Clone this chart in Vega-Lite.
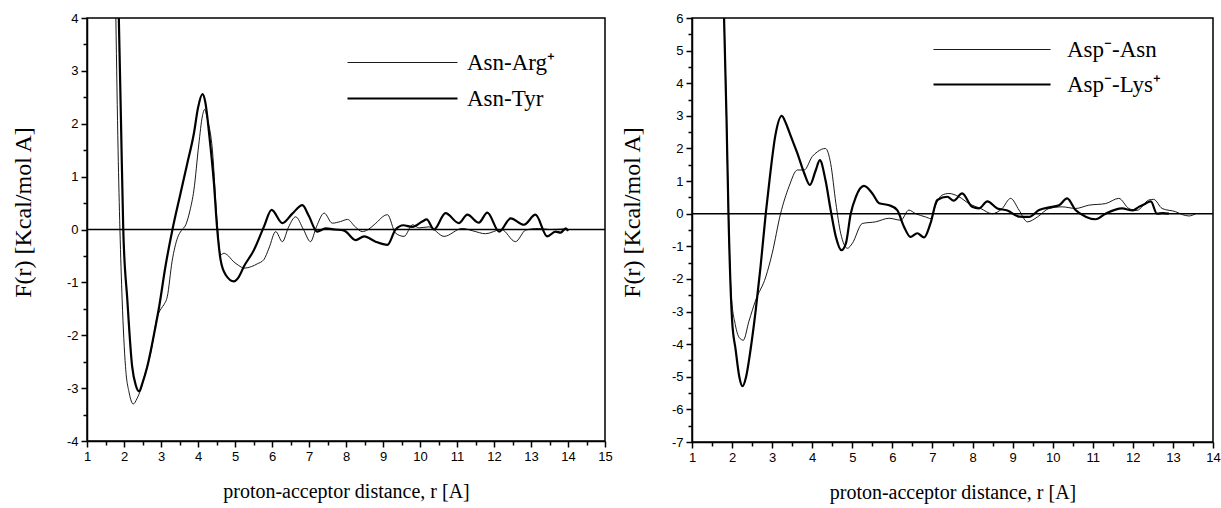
{
  "$schema": "https://vega.github.io/schema/vega-lite/v6.json",
  "background": "white",
  "padding": {"left": 10, "top": 11, "right": 5, "bottom": 5},
  "spacing": 6,
  "config": {
    "view": {"stroke": "black", "strokeWidth": 1.5},
    "axis": {"grid": false},
    "legend": {"labelFont": "Liberation Serif", "labelFontSize": 23, "labelColor": "black", "padding": 0}
  },
  "resolve": {"scale": {"strokeWidth": "independent"}, "legend": {"strokeWidth": "independent"}},
  "hconcat": [
    {
      "width": 518, "height": 423,
      "resolve": {"axis": {"x": "independent", "y": "independent"}},
      "layer": [
        {
          "data": {"values": [{}]},
          "mark": {"type": "rule", "color": "black", "strokeWidth": 1.5},
          "encoding": {"y": {"datum": 0, "type": "quantitative", "scale": {"domain": [-4, 4], "nice": false, "zero": false}, "axis": null}}
        },
        {
          "data": {"values": [{}]},
          "mark": {"type": "point", "opacity": 0},
          "encoding": {
            "x": {"datum": 1, "type": "quantitative", "scale": {"domain": [1, 15], "nice": false, "zero": false},
              "axis": {"orient": "bottom", "zindex": 1, "values": [1.5,2.5,3.5,4.5,5.5,6.5,7.5,8.5,9.5,10.5,11.5,12.5,13.5,14.5], "labels": false, "domain": false, "title": null, "tickSize": 4, "tickColor": "black", "tickWidth": 1.5}},
            "y": {"datum": 0, "type": "quantitative", "scale": {"domain": [-4, 4], "nice": false, "zero": false},
              "axis": {"orient": "left", "zindex": 1, "values": [-3.5,-2.5,-1.5,-0.5,0.5,1.5,2.5,3.5], "labels": false, "domain": false, "title": null, "tickSize": 4, "tickColor": "black", "tickWidth": 1.5}}
          }
        },
        {
          "data": {"values": [
            {"series": "Asn-Arg⁺", "r": 1.78, "F": 4.0}, {"series": "Asn-Arg⁺", "r": 1.84, "F": 1.5}, {"series": "Asn-Arg⁺", "r": 1.89, "F": 0}, {"series": "Asn-Arg⁺", "r": 1.95, "F": -1.33}, {"series": "Asn-Arg⁺", "r": 2.04, "F": -2.59}, {"series": "Asn-Arg⁺", "r": 2.14, "F": -3.09}, {"series": "Asn-Arg⁺", "r": 2.25, "F": -3.30}, {"series": "Asn-Arg⁺", "r": 2.35, "F": -3.2}, {"series": "Asn-Arg⁺", "r": 2.45, "F": -3.03}, {"series": "Asn-Arg⁺", "r": 2.58, "F": -2.7}, {"series": "Asn-Arg⁺", "r": 2.72, "F": -2.34}, {"series": "Asn-Arg⁺", "r": 2.90, "F": -1.65}, {"series": "Asn-Arg⁺", "r": 3.0, "F": -1.5}, {"series": "Asn-Arg⁺", "r": 3.08, "F": -1.42}, {"series": "Asn-Arg⁺", "r": 3.17, "F": -1.27}, {"series": "Asn-Arg⁺", "r": 3.30, "F": -0.6}, {"series": "Asn-Arg⁺", "r": 3.45, "F": -0.15}, {"series": "Asn-Arg⁺", "r": 3.55, "F": -0.02}, {"series": "Asn-Arg⁺", "r": 3.67, "F": 0.09}, {"series": "Asn-Arg⁺", "r": 3.78, "F": 0.35}, {"series": "Asn-Arg⁺", "r": 3.89, "F": 0.75}, {"series": "Asn-Arg⁺", "r": 4.02, "F": 1.6}, {"series": "Asn-Arg⁺", "r": 4.12, "F": 2.15}, {"series": "Asn-Arg⁺", "r": 4.18, "F": 2.27}, {"series": "Asn-Arg⁺", "r": 4.25, "F": 2.1}, {"series": "Asn-Arg⁺", "r": 4.39, "F": 1.5}, {"series": "Asn-Arg⁺", "r": 4.52, "F": 0.1}, {"series": "Asn-Arg⁺", "r": 4.61, "F": -0.48}, {"series": "Asn-Arg⁺", "r": 4.70, "F": -0.45}, {"series": "Asn-Arg⁺", "r": 4.79, "F": -0.48}, {"series": "Asn-Arg⁺", "r": 4.95, "F": -0.6}, {"series": "Asn-Arg⁺", "r": 5.1, "F": -0.68}, {"series": "Asn-Arg⁺", "r": 5.24, "F": -0.73}, {"series": "Asn-Arg⁺", "r": 5.45, "F": -0.70}, {"series": "Asn-Arg⁺", "r": 5.6, "F": -0.65}, {"series": "Asn-Arg⁺", "r": 5.78, "F": -0.57}, {"series": "Asn-Arg⁺", "r": 5.92, "F": -0.35}, {"series": "Asn-Arg⁺", "r": 6.1, "F": -0.04}, {"series": "Asn-Arg⁺", "r": 6.28, "F": -0.23}, {"series": "Asn-Arg⁺", "r": 6.45, "F": 0.05}, {"series": "Asn-Arg⁺", "r": 6.64, "F": 0.24}, {"series": "Asn-Arg⁺", "r": 6.85, "F": 0.0}, {"series": "Asn-Arg⁺", "r": 7.04, "F": -0.23}, {"series": "Asn-Arg⁺", "r": 7.2, "F": 0.05}, {"series": "Asn-Arg⁺", "r": 7.41, "F": 0.31}, {"series": "Asn-Arg⁺", "r": 7.63, "F": 0.12}, {"series": "Asn-Arg⁺", "r": 7.85, "F": 0.15}, {"series": "Asn-Arg⁺", "r": 8.04, "F": 0.19}, {"series": "Asn-Arg⁺", "r": 8.25, "F": 0.05}, {"series": "Asn-Arg⁺", "r": 8.44, "F": -0.04}, {"series": "Asn-Arg⁺", "r": 8.6, "F": 0.0}, {"series": "Asn-Arg⁺", "r": 8.76, "F": 0.09}, {"series": "Asn-Arg⁺", "r": 9.12, "F": 0.28}, {"series": "Asn-Arg⁺", "r": 9.34, "F": -0.07}, {"series": "Asn-Arg⁺", "r": 9.57, "F": -0.13}, {"series": "Asn-Arg⁺", "r": 9.8, "F": 0.09}, {"series": "Asn-Arg⁺", "r": 9.97, "F": 0.03}, {"series": "Asn-Arg⁺", "r": 10.24, "F": 0.05}, {"series": "Asn-Arg⁺", "r": 10.65, "F": -0.13}, {"series": "Asn-Arg⁺", "r": 11.14, "F": 0.02}, {"series": "Asn-Arg⁺", "r": 11.45, "F": -0.03}, {"series": "Asn-Arg⁺", "r": 11.77, "F": -0.08}, {"series": "Asn-Arg⁺", "r": 12.2, "F": 0}, {"series": "Asn-Arg⁺", "r": 12.58, "F": -0.23}, {"series": "Asn-Arg⁺", "r": 12.86, "F": -0.01}, {"series": "Asn-Arg⁺", "r": 13.2, "F": 0.02}, {"series": "Asn-Arg⁺", "r": 13.5, "F": 0.0}, {"series": "Asn-Arg⁺", "r": 13.9, "F": 0.01},
            {"series": "Asn-Tyr", "r": 1.86, "F": 4.0}, {"series": "Asn-Tyr", "r": 1.92, "F": 2.0}, {"series": "Asn-Tyr", "r": 1.98, "F": 0}, {"series": "Asn-Tyr", "r": 2.09, "F": -1.33}, {"series": "Asn-Tyr", "r": 2.22, "F": -2.59}, {"series": "Asn-Tyr", "r": 2.32, "F": -2.95}, {"series": "Asn-Tyr", "r": 2.41, "F": -3.06}, {"series": "Asn-Tyr", "r": 2.5, "F": -2.9}, {"series": "Asn-Tyr", "r": 2.63, "F": -2.59}, {"series": "Asn-Tyr", "r": 2.85, "F": -1.84}, {"series": "Asn-Tyr", "r": 2.95, "F": -1.46}, {"series": "Asn-Tyr", "r": 3.12, "F": -0.7}, {"series": "Asn-Tyr", "r": 3.31, "F": 0}, {"series": "Asn-Tyr", "r": 3.53, "F": 0.69}, {"series": "Asn-Tyr", "r": 3.71, "F": 1.25}, {"series": "Asn-Tyr", "r": 3.89, "F": 1.82}, {"series": "Asn-Tyr", "r": 4.0, "F": 2.3}, {"series": "Asn-Tyr", "r": 4.12, "F": 2.56}, {"series": "Asn-Tyr", "r": 4.2, "F": 2.4}, {"series": "Asn-Tyr", "r": 4.30, "F": 1.82}, {"series": "Asn-Tyr", "r": 4.43, "F": 0.88}, {"series": "Asn-Tyr", "r": 4.52, "F": 0}, {"series": "Asn-Tyr", "r": 4.61, "F": -0.57}, {"series": "Asn-Tyr", "r": 4.75, "F": -0.86}, {"series": "Asn-Tyr", "r": 4.97, "F": -0.98}, {"series": "Asn-Tyr", "r": 5.10, "F": -0.9}, {"series": "Asn-Tyr", "r": 5.24, "F": -0.70}, {"series": "Asn-Tyr", "r": 5.51, "F": -0.39}, {"series": "Asn-Tyr", "r": 5.78, "F": 0.05}, {"series": "Asn-Tyr", "r": 5.99, "F": 0.37}, {"series": "Asn-Tyr", "r": 6.28, "F": 0.12}, {"series": "Asn-Tyr", "r": 6.55, "F": 0.3}, {"series": "Asn-Tyr", "r": 6.82, "F": 0.46}, {"series": "Asn-Tyr", "r": 7.0, "F": 0.25}, {"series": "Asn-Tyr", "r": 7.22, "F": -0.04}, {"series": "Asn-Tyr", "r": 7.45, "F": 0.02}, {"series": "Asn-Tyr", "r": 7.7, "F": 0.0}, {"series": "Asn-Tyr", "r": 7.95, "F": -0.02}, {"series": "Asn-Tyr", "r": 8.26, "F": -0.2}, {"series": "Asn-Tyr", "r": 8.49, "F": -0.13}, {"series": "Asn-Tyr", "r": 8.80, "F": -0.23}, {"series": "Asn-Tyr", "r": 9.12, "F": -0.29}, {"series": "Asn-Tyr", "r": 9.34, "F": 0.0}, {"series": "Asn-Tyr", "r": 9.55, "F": 0.08}, {"series": "Asn-Tyr", "r": 9.79, "F": 0.05}, {"series": "Asn-Tyr", "r": 10.06, "F": 0.15}, {"series": "Asn-Tyr", "r": 10.18, "F": 0.19}, {"series": "Asn-Tyr", "r": 10.38, "F": 0}, {"series": "Asn-Tyr", "r": 10.69, "F": 0.31}, {"series": "Asn-Tyr", "r": 11.05, "F": 0.12}, {"series": "Asn-Tyr", "r": 11.28, "F": 0.28}, {"series": "Asn-Tyr", "r": 11.59, "F": 0.13}, {"series": "Asn-Tyr", "r": 11.82, "F": 0.32}, {"series": "Asn-Tyr", "r": 12.14, "F": -0.04}, {"series": "Asn-Tyr", "r": 12.45, "F": 0.21}, {"series": "Asn-Tyr", "r": 12.81, "F": 0.09}, {"series": "Asn-Tyr", "r": 13.12, "F": 0.28}, {"series": "Asn-Tyr", "r": 13.44, "F": -0.13}, {"series": "Asn-Tyr", "r": 13.66, "F": -0.04}, {"series": "Asn-Tyr", "r": 13.8, "F": -0.06}, {"series": "Asn-Tyr", "r": 13.94, "F": 0.02}, {"series": "Asn-Tyr", "r": 14.0, "F": -0.03}
          ]},
          "mark": {"type": "line", "interpolate": "monotone", "color": "black"},
          "encoding": {
            "x": {"field": "r", "type": "quantitative", "scale": {"domain": [1, 15], "nice": false, "zero": false},
              "axis": {"orient": "bottom", "zindex": 1, "domainColor": "black", "domainWidth": 1.5,
                "labelFont": "Liberation Sans", "labelFontSize": 13, "labelColor": "black", "labelFlush": false, "labelPadding": 3,
                "title": "proton-acceptor distance, r [A]", "titleFont": "Liberation Serif", "titleFontSize": 20, "titleFontWeight": "normal", "titleColor": "black", "titlePadding": 18,
                "values": [1,2,3,4,5,6,7,8,9,10,11,12,13,14,15], "format": "d", "tickSize": 6, "tickColor": "black", "tickWidth": 1.5}},
            "y": {"field": "F", "type": "quantitative", "scale": {"domain": [-4, 4], "nice": false, "zero": false},
              "axis": {"orient": "left", "zindex": 1, "domainColor": "black", "domainWidth": 1.5,
                "labelFont": "Liberation Sans", "labelFontSize": 13, "labelColor": "black", "labelFlush": false, "labelPadding": 3,
                "title": "F(r) [Kcal/mol A]", "titleFont": "Liberation Serif", "titleFontSize": 24, "titleFontWeight": "normal", "titleColor": "black", "titleX": -52, "titleY": 194,
                "values": [-4,-3,-2,-1,0,1,2,3,4], "labelExpr": "'' + datum.value", "tickSize": 6, "tickColor": "black", "tickWidth": 1.5}},
            "strokeWidth": {"field": "series", "type": "ordinal",
              "scale": {"domain": ["Asn-Arg⁺", "Asn-Tyr"], "range": [0.9, 2.2]},
              "legend": {"title": null, "orient": "none", "legendX": 259, "legendY": 33,
                "symbolType": "M-1,0H9", "symbolSize": 484, "symbolStrokeColor": "black", "symbolFillColor": "transparent",
                "labelOffset": 96, "rowPadding": 11}}
          }
        }
      ]
    },
    {
      "width": 521, "height": 424,
      "resolve": {"axis": {"x": "independent", "y": "independent"}},
      "layer": [
        {
          "data": {"values": [{}]},
          "mark": {"type": "rule", "color": "black", "strokeWidth": 1.5},
          "encoding": {"y": {"datum": 0, "type": "quantitative", "scale": {"domain": [-7, 6], "nice": false, "zero": false}, "axis": null}}
        },
        {
          "data": {"values": [{}]},
          "mark": {"type": "point", "opacity": 0},
          "encoding": {
            "x": {"datum": 1, "type": "quantitative", "scale": {"domain": [1, 14], "nice": false, "zero": false},
              "axis": {"orient": "bottom", "zindex": 1, "values": [1.5,2.5,3.5,4.5,5.5,6.5,7.5,8.5,9.5,10.5,11.5,12.5,13.5], "labels": false, "domain": false, "title": null, "tickSize": 4, "tickColor": "black", "tickWidth": 1.5}},
            "y": {"datum": 0, "type": "quantitative", "scale": {"domain": [-7, 6], "nice": false, "zero": false},
              "axis": {"orient": "left", "zindex": 1, "values": [-6.5,-5.5,-4.5,-3.5,-2.5,-1.5,-0.5,0.5,1.5,2.5,3.5,4.5,5.5], "labels": false, "domain": false, "title": null, "tickSize": 4, "tickColor": "black", "tickWidth": 1.5}}
          }
        },
        {
          "data": {"values": [
            {"series": "Asp⁻-Asn", "r": 1.80, "F": 6}, {"series": "Asp⁻-Asn", "r": 1.86, "F": 3}, {"series": "Asp⁻-Asn", "r": 1.91, "F": 0}, {"series": "Asp⁻-Asn", "r": 1.98, "F": -2.5}, {"series": "Asp⁻-Asn", "r": 2.08, "F": -3.4}, {"series": "Asp⁻-Asn", "r": 2.18, "F": -3.8}, {"series": "Asp⁻-Asn", "r": 2.28, "F": -3.88}, {"series": "Asp⁻-Asn", "r": 2.42, "F": -3.3}, {"series": "Asp⁻-Asn", "r": 2.59, "F": -2.65}, {"series": "Asp⁻-Asn", "r": 2.84, "F": -1.94}, {"series": "Asp⁻-Asn", "r": 3.0, "F": -1.22}, {"series": "Asp⁻-Asn", "r": 3.21, "F": 0}, {"series": "Asp⁻-Asn", "r": 3.42, "F": 0.83}, {"series": "Asp⁻-Asn", "r": 3.63, "F": 1.34}, {"series": "Asp⁻-Asn", "r": 3.80, "F": 1.34}, {"series": "Asp⁻-Asn", "r": 4.0, "F": 1.75}, {"series": "Asp⁻-Asn", "r": 4.13, "F": 1.9}, {"series": "Asp⁻-Asn", "r": 4.33, "F": 2.0}, {"series": "Asp⁻-Asn", "r": 4.46, "F": 1.54}, {"series": "Asp⁻-Asn", "r": 4.59, "F": 0.32}, {"series": "Asp⁻-Asn", "r": 4.71, "F": -0.6}, {"series": "Asp⁻-Asn", "r": 4.88, "F": -1.06}, {"series": "Asp⁻-Asn", "r": 5.0, "F": -0.91}, {"series": "Asp⁻-Asn", "r": 5.25, "F": -0.3}, {"series": "Asp⁻-Asn", "r": 5.58, "F": -0.25}, {"series": "Asp⁻-Asn", "r": 5.92, "F": -0.14}, {"series": "Asp⁻-Asn", "r": 6.21, "F": -0.2}, {"series": "Asp⁻-Asn", "r": 6.41, "F": 0.11}, {"series": "Asp⁻-Asn", "r": 6.58, "F": 0}, {"series": "Asp⁻-Asn", "r": 6.83, "F": -0.1}, {"series": "Asp⁻-Asn", "r": 6.96, "F": -0.15}, {"series": "Asp⁻-Asn", "r": 7.06, "F": 0.2}, {"series": "Asp⁻-Asn", "r": 7.24, "F": 0.57}, {"series": "Asp⁻-Asn", "r": 7.41, "F": 0.62}, {"series": "Asp⁻-Asn", "r": 7.66, "F": 0.52}, {"series": "Asp⁻-Asn", "r": 7.91, "F": 0.31}, {"series": "Asp⁻-Asn", "r": 8.2, "F": 0.16}, {"series": "Asp⁻-Asn", "r": 8.49, "F": 0}, {"series": "Asp⁻-Asn", "r": 8.74, "F": 0.16}, {"series": "Asp⁻-Asn", "r": 8.95, "F": 0.47}, {"series": "Asp⁻-Asn", "r": 9.16, "F": 0.11}, {"series": "Asp⁻-Asn", "r": 9.37, "F": -0.25}, {"series": "Asp⁻-Asn", "r": 9.62, "F": -0.1}, {"series": "Asp⁻-Asn", "r": 9.91, "F": 0.16}, {"series": "Asp⁻-Asn", "r": 10.24, "F": 0.21}, {"series": "Asp⁻-Asn", "r": 10.57, "F": 0.16}, {"series": "Asp⁻-Asn", "r": 10.9, "F": 0.26}, {"series": "Asp⁻-Asn", "r": 11.32, "F": 0.31}, {"series": "Asp⁻-Asn", "r": 11.65, "F": 0.47}, {"series": "Asp⁻-Asn", "r": 11.9, "F": 0.16}, {"series": "Asp⁻-Asn", "r": 12.1, "F": 0.1}, {"series": "Asp⁻-Asn", "r": 12.4, "F": 0.42}, {"series": "Asp⁻-Asn", "r": 12.52, "F": 0.44}, {"series": "Asp⁻-Asn", "r": 12.73, "F": 0.16}, {"series": "Asp⁻-Asn", "r": 13.07, "F": 0.06}, {"series": "Asp⁻-Asn", "r": 13.24, "F": -0.03}, {"series": "Asp⁻-Asn", "r": 13.40, "F": -0.07}, {"series": "Asp⁻-Asn", "r": 13.57, "F": 0},
            {"series": "Asp⁻-Lys⁺", "r": 1.80, "F": 6}, {"series": "Asp⁻-Lys⁺", "r": 1.86, "F": 3}, {"series": "Asp⁻-Lys⁺", "r": 1.91, "F": 0}, {"series": "Asp⁻-Lys⁺", "r": 2.0, "F": -3.26}, {"series": "Asp⁻-Lys⁺", "r": 2.09, "F": -4.18}, {"series": "Asp⁻-Lys⁺", "r": 2.18, "F": -5.0}, {"series": "Asp⁻-Lys⁺", "r": 2.26, "F": -5.29}, {"series": "Asp⁻-Lys⁺", "r": 2.35, "F": -5.0}, {"series": "Asp⁻-Lys⁺", "r": 2.46, "F": -4.18}, {"series": "Asp⁻-Lys⁺", "r": 2.59, "F": -2.96}, {"series": "Asp⁻-Lys⁺", "r": 2.71, "F": -1.63}, {"series": "Asp⁻-Lys⁺", "r": 2.84, "F": 0}, {"series": "Asp⁻-Lys⁺", "r": 2.95, "F": 1.2}, {"series": "Asp⁻-Lys⁺", "r": 3.08, "F": 2.4}, {"series": "Asp⁻-Lys⁺", "r": 3.24, "F": 3.0}, {"series": "Asp⁻-Lys⁺", "r": 3.35, "F": 2.75}, {"series": "Asp⁻-Lys⁺", "r": 3.47, "F": 2.36}, {"series": "Asp⁻-Lys⁺", "r": 3.63, "F": 1.85}, {"series": "Asp⁻-Lys⁺", "r": 3.80, "F": 1.24}, {"series": "Asp⁻-Lys⁺", "r": 3.94, "F": 0.88}, {"series": "Asp⁻-Lys⁺", "r": 4.09, "F": 1.34}, {"series": "Asp⁻-Lys⁺", "r": 4.19, "F": 1.64}, {"series": "Asp⁻-Lys⁺", "r": 4.33, "F": 1.03}, {"series": "Asp⁻-Lys⁺", "r": 4.46, "F": 0.11}, {"series": "Asp⁻-Lys⁺", "r": 4.59, "F": -0.71}, {"series": "Asp⁻-Lys⁺", "r": 4.73, "F": -1.12}, {"series": "Asp⁻-Lys⁺", "r": 4.84, "F": -0.91}, {"series": "Asp⁻-Lys⁺", "r": 4.96, "F": 0}, {"series": "Asp⁻-Lys⁺", "r": 5.09, "F": 0.52}, {"series": "Asp⁻-Lys⁺", "r": 5.29, "F": 0.85}, {"series": "Asp⁻-Lys⁺", "r": 5.50, "F": 0.62}, {"series": "Asp⁻-Lys⁺", "r": 5.67, "F": 0.32}, {"series": "Asp⁻-Lys⁺", "r": 5.92, "F": 0.26}, {"series": "Asp⁻-Lys⁺", "r": 6.12, "F": 0.11}, {"series": "Asp⁻-Lys⁺", "r": 6.29, "F": -0.4}, {"series": "Asp⁻-Lys⁺", "r": 6.45, "F": -0.71}, {"series": "Asp⁻-Lys⁺", "r": 6.62, "F": -0.6}, {"series": "Asp⁻-Lys⁺", "r": 6.79, "F": -0.73}, {"series": "Asp⁻-Lys⁺", "r": 6.95, "F": -0.3}, {"series": "Asp⁻-Lys⁺", "r": 7.12, "F": 0.42}, {"series": "Asp⁻-Lys⁺", "r": 7.37, "F": 0.52}, {"series": "Asp⁻-Lys⁺", "r": 7.53, "F": 0.4}, {"series": "Asp⁻-Lys⁺", "r": 7.74, "F": 0.62}, {"series": "Asp⁻-Lys⁺", "r": 7.99, "F": 0.21}, {"series": "Asp⁻-Lys⁺", "r": 8.16, "F": 0.16}, {"series": "Asp⁻-Lys⁺", "r": 8.37, "F": 0.38}, {"series": "Asp⁻-Lys⁺", "r": 8.62, "F": 0.16}, {"series": "Asp⁻-Lys⁺", "r": 8.87, "F": 0.1}, {"series": "Asp⁻-Lys⁺", "r": 9.16, "F": -0.09}, {"series": "Asp⁻-Lys⁺", "r": 9.41, "F": -0.1}, {"series": "Asp⁻-Lys⁺", "r": 9.66, "F": 0.11}, {"series": "Asp⁻-Lys⁺", "r": 9.99, "F": 0.21}, {"series": "Asp⁻-Lys⁺", "r": 10.16, "F": 0.26}, {"series": "Asp⁻-Lys⁺", "r": 10.36, "F": 0.47}, {"series": "Asp⁻-Lys⁺", "r": 10.57, "F": 0.11}, {"series": "Asp⁻-Lys⁺", "r": 10.82, "F": -0.09}, {"series": "Asp⁻-Lys⁺", "r": 11.07, "F": -0.17}, {"series": "Asp⁻-Lys⁺", "r": 11.32, "F": 0}, {"series": "Asp⁻-Lys⁺", "r": 11.73, "F": 0.16}, {"series": "Asp⁻-Lys⁺", "r": 12.0, "F": 0.1}, {"series": "Asp⁻-Lys⁺", "r": 12.15, "F": 0.21}, {"series": "Asp⁻-Lys⁺", "r": 12.3, "F": 0.3}, {"series": "Asp⁻-Lys⁺", "r": 12.45, "F": 0.38}, {"series": "Asp⁻-Lys⁺", "r": 12.6, "F": 0.0}, {"series": "Asp⁻-Lys⁺", "r": 12.75, "F": 0.02}, {"series": "Asp⁻-Lys⁺", "r": 12.9, "F": 0.0}
          ]},
          "mark": {"type": "line", "interpolate": "monotone", "color": "black"},
          "encoding": {
            "x": {"field": "r", "type": "quantitative", "scale": {"domain": [1, 14], "nice": false, "zero": false},
              "axis": {"orient": "bottom", "zindex": 1, "domainColor": "black", "domainWidth": 1.5,
                "labelFont": "Liberation Sans", "labelFontSize": 13, "labelColor": "black", "labelFlush": false, "labelPadding": 3,
                "title": "proton-acceptor distance, r [A]", "titleFont": "Liberation Serif", "titleFontSize": 20, "titleFontWeight": "normal", "titleColor": "black", "titlePadding": 18,
                "values": [1,2,3,4,5,6,7,8,9,10,11,12,13,14], "format": "d", "tickSize": 6, "tickColor": "black", "tickWidth": 1.5}},
            "y": {"field": "F", "type": "quantitative", "scale": {"domain": [-7, 6], "nice": false, "zero": false},
              "axis": {"orient": "left", "zindex": 1, "domainColor": "black", "domainWidth": 1.5,
                "labelFont": "Liberation Sans", "labelFontSize": 13, "labelColor": "black", "labelFlush": false, "labelPadding": 3,
                "title": "F(r) [Kcal/mol A]", "titleFont": "Liberation Serif", "titleFontSize": 24, "titleFontWeight": "normal", "titleColor": "black", "titleX": -48, "titleY": 194,
                "values": [-7,-6,-5,-4,-3,-2,-1,0,1,2,3,4,5,6], "labelExpr": "'' + datum.value", "tickSize": 6, "tickColor": "black", "tickWidth": 1.5}},
            "strokeWidth": {"field": "series", "type": "ordinal",
              "scale": {"domain": ["Asp⁻-Asn", "Asp⁻-Lys⁺"], "range": [0.9, 2.2]},
              "legend": {"title": null, "orient": "none", "legendX": 240, "legendY": 20,
                "symbolType": "M-1,0H9.64", "symbolSize": 484, "symbolStrokeColor": "black", "symbolFillColor": "transparent",
                "labelOffset": 110, "rowPadding": 10}}
          }
        }
      ]
    }
  ]
}
